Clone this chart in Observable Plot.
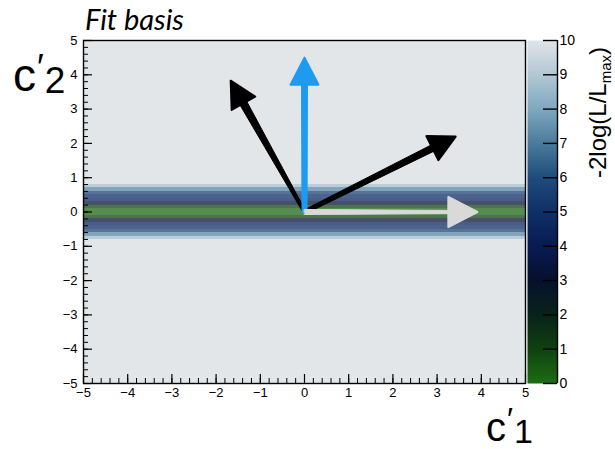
<!DOCTYPE html>
<html>
<head>
<meta charset="utf-8">
<script src="https://cdn.jsdelivr.net/npm/d3@7"></script>
<script src="https://cdn.jsdelivr.net/npm/@observablehq/plot@0.6"></script>
<style>
  body { margin: 0; background: #fff; }
  #chart { position: relative; width: 615px; height: 449px; overflow: hidden;
           font-family: "Liberation Sans", Arial, sans-serif; }
  #chart svg { position: absolute; top: 0; }
  .title { position: absolute; left: 85px; top: 4px; font-family: Lato, "Open Sans", sans-serif;
           font-style: italic; font-size: 29px; line-height: 1; white-space: nowrap; }
  .axlab { position: absolute; line-height: 1; white-space: nowrap; }
  .axlab .pr { vertical-align: 11px; margin-left: 1px; }
  .axlab .sb { vertical-align: -2px; margin-left: 1px; }
  .ztitle { position: absolute; left: 585px; top: 178px; transform-origin: 0 0; transform: rotate(-90deg);
            font-size: 24px; line-height: 1.1; white-space: nowrap; }
  .ztitle sub { font-size: 15px; vertical-align: -5px; }
</style>
</head>
<body>
<div id="chart">
  <div class="title">Fit basis</div>
  <div class="axlab" style="left:13px; top:50px; font-size:46px;">c<span class="pr" style="font-size:36px;">′</span><span class="sb" style="font-size:37px;">2</span></div>
  <div class="axlab" style="left:486px; top:403px; font-size:40px;">c<span class="pr" style="font-size:32px;">′</span><span class="sb" style="font-size:34px;">1</span></div>
  <div class="ztitle">-2log(L/L<sub>max</sub>)</div>
</div>
<script>
// Axis ticks
const c1Ticks = [-5, -4, -3, -2, -1, 0, 1, 2, 3, 4, 5];
const c2Ticks = [-5, -4, -3, -2, -1, 0, 1, 2, 3, 4, 5];
const nllTicks = [0, 1, 2, 3, 4, 5, 6, 7, 8, 9, 10];

// Palette of the -2log(L/Lmax) colour axis
const nllStops = [0, 1, 2, 3, 4, 5, 6, 7, 8, 9, 10];
const nllColors = ["#1d6d13", "#0f4210", "#08231a", "#06112e", "#081a52", "#0f3068",
                   "#1f4c7a", "#4a7b9b", "#7fa8c0", "#b2c8d4", "#e0e4e8"];

// Likelihood scan: -2log(L/Lmax) in 0.1-wide rows of c'2 (flat along c'1);
// everything outside the band sits at the top of the axis (10)
const rowLow = [-0.8, -0.7, -0.6, -0.5, -0.4, -0.3, -0.2, -0.1, 0, 0.1, 0.2, 0.3, 0.4, 0.5, 0.6, 0.7];
const rowNll = [8.8, 7.3, 5.8, 5.0, 4.6, 3.4, 0.9, 0.1, 0.1, 0.9, 3.4, 4.6, 5.0, 5.8, 7.3, 8.8];
const nllCeiling = 10;

// Basis vectors drawn from the origin (arrow tips in c'1, c'2)
const arrowName = ["left", "right", "up", "along"];
const arrowTipX = [-1.67, 3.42, 0, 3.91];
const arrowTipY = [3.83, 2.2, 4.5, 0];

// ---- layout ----
const W = 615, H = 449;
const mL = 83, mR = 90, mT = 40, mB = 66;
const frameW = W - mL - mR, frameH = H - mT - mB;
const kx = frameW / 10, ky = frameH / 10; // px per unit

const colorScale = { type: "linear", domain: nllStops, range: nllColors, interpolate: "rgb" };

const rows = rowLow.map((lo, i) => ({ x1: -5, x2: 5, lo, hi: lo + 0.1, nll: rowNll[i] }));
const canvas = [{ x1: -5, x2: 5, lo: -5, hi: 5, nll: nllCeiling }];
const heatOpacity = 0.72;
const underlay = "#e8e8ec";

// arrow styling (pixels)
const arrowStyle = {
  left:  { color: "#000000", head: [26, 27], w0: 3, w1: 8 },
  right: { color: "#000000", head: [26, 27], w0: 4, w1: 7 },
  up:    { color: "#1d9bf0", head: [27, 28], w0: 5, w1: 6 },
  along: { color: "#d9d9d9", head: [29, 30], w0: 5, w1: 3 }
};

// polygon outlines (in data units) for each arrow's shaft and head
function arrowShapes(name, tx, ty) {
  const s = arrowStyle[name];
  const px = tx * kx, py = -ty * ky;
  const n = Math.hypot(px, py), ux = px / n, uy = py / n;
  const [L, Wd] = s.head;
  const bx = px - L * ux, by = py - L * uy;
  const toData = ([X, Y]) => ({ x: X / kx, y: -Y / ky });
  const head = [[px, py], [bx - Wd / 2 * uy, by + Wd / 2 * ux], [bx + Wd / 2 * uy, by - Wd / 2 * ux]].map(toData);
  const ex = px - 0.6 * L * ux, ey = py - 0.6 * L * uy;
  const shaft = [[-s.w0 / 2 * uy, s.w0 / 2 * ux], [ex - s.w1 / 2 * uy, ey + s.w1 / 2 * ux],
                 [ex + s.w1 / 2 * uy, ey - s.w1 / 2 * ux], [s.w0 / 2 * uy, -s.w0 / 2 * ux]].map(toData);
  return { head, shaft, color: s.color };
}

const arrowMarks = arrowName.flatMap((name, i) => {
  const { head, shaft, color } = arrowShapes(name, arrowTipX[i], arrowTipY[i]);
  return [
    Plot.line(shaft, { x: "x", y: "y", curve: "linear-closed", fill: color, stroke: color, strokeWidth: 1, strokeLinejoin: "round" }),
    Plot.line(head, { x: "x", y: "y", curve: "linear-closed", fill: color, stroke: color, strokeWidth: 2, strokeLinejoin: "round" })
  ];
});

const minor = d3.range(-5, 5.001, 0.2);

const main = Plot.plot({
  width: W, height: H,
  marginLeft: mL, marginRight: mR, marginTop: mT, marginBottom: mB,
  style: { fontFamily: "'Liberation Sans', Arial, sans-serif", fontSize: "13px", background: "transparent", overflow: "visible" },
  x: { domain: [-5, 5], ticks: c1Ticks, tickSize: 0, tickPadding: 4, label: null },
  y: { domain: [-5, 5], ticks: c2Ticks, tickSize: 0, tickPadding: 6, label: null },
  color: colorScale,
  marks: [
    Plot.rect(canvas, { x1: "x1", x2: "x2", y1: "lo", y2: "hi", fill: underlay }),
    Plot.rect(canvas, { x1: "x1", x2: "x2", y1: "lo", y2: "hi", fill: "nll", fillOpacity: heatOpacity }),
    Plot.rect(rows, { x1: "x1", x2: "x2", y1: "lo", y2: "hi", fill: underlay, shapeRendering: "crispEdges" }),
    Plot.rect(rows, { x1: "x1", x2: "x2", y1: "lo", y2: "hi", fill: "nll", fillOpacity: heatOpacity, shapeRendering: "crispEdges" }),
    ...arrowMarks,
    Plot.ruleX(minor, { stroke: "black", strokeWidth: 1, insetTop: frameH - 5 }),
    Plot.ruleX(c1Ticks, { stroke: "black", strokeWidth: 1.2, insetTop: frameH - 9 }),
    Plot.ruleY(minor, { stroke: "black", strokeWidth: 1, insetRight: frameW - 5 }),
    Plot.ruleY(c2Ticks, { stroke: "black", strokeWidth: 1.2, insetRight: frameW - 9 }),
    Plot.frame({ stroke: "black", strokeWidth: 1.4 })
  ]
});
main.style.left = "0px";

// colour axis: the palette sampled continuously along its height
const bar = Plot.plot({
  width: 88, height: H,
  marginLeft: 0, marginRight: 58, marginTop: mT, marginBottom: mB,
  style: { fontFamily: "'Liberation Sans', Arial, sans-serif", fontSize: "14px", background: "transparent", overflow: "visible" },
  x: { domain: [0, 1], axis: null },
  y: { domain: [0, 10], axis: "right", ticks: nllTicks, tickSize: 0, tickPadding: 2, tickFormat: d => String(d), label: null },
  color: colorScale,
  marks: [
    Plot.raster({ x1: 0, x2: 1, y1: 0, y2: 10, width: 1, height: frameH, fill: (x, y) => y, imageRendering: "auto" }),
    Plot.ruleY(nllTicks, { stroke: "black", strokeWidth: 1.4, insetLeft: 16 }),
    Plot.ruleX([1], { stroke: "black", strokeWidth: 1.4 })
  ]
});
bar.style.left = (W - mR + 2) + "px";

const chart = document.getElementById("chart");
chart.insertBefore(bar, chart.firstChild);
chart.insertBefore(main, chart.firstChild);
</script>
</body>
</html>
